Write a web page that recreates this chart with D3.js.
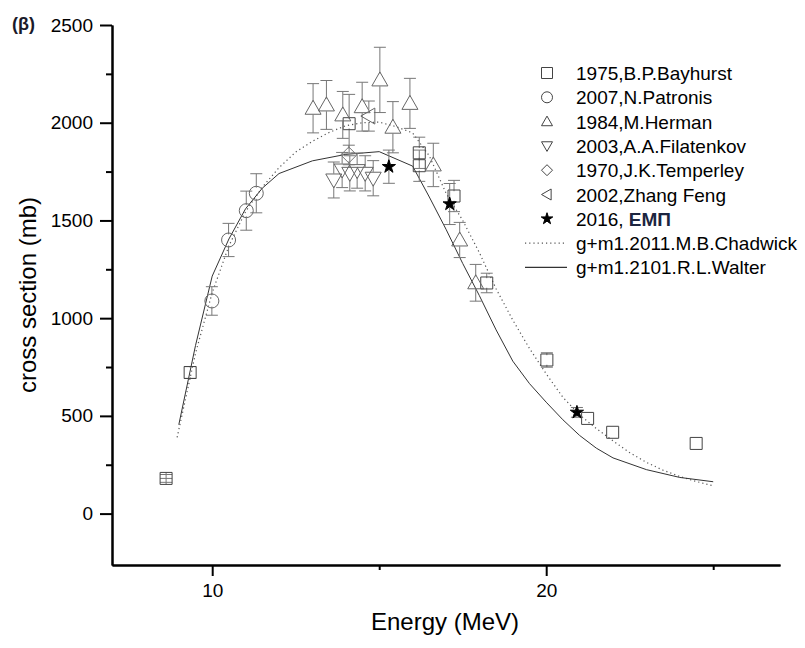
<!DOCTYPE html>
<html>
<head>
<meta charset="utf-8">
<script src="https://cdn.jsdelivr.net/npm/d3@7"></script>
<style>
  body { margin: 0; background: #fff; }
  svg { display: block; font-family: "Liberation Sans", Arial, sans-serif; }
</style>
</head>
<body>
<svg id="chart" width="805" height="648"></svg>
<script>
const width = 805;
const height = 648;

// measured points (Energy in MeV, cross section in mb, error in mb)
const bayhurstE   = [8.62, 9.34, 14.1, 16.2, 16.2, 17.24, 18.22, 20.02, 21.24, 21.99, 24.49];
const bayhurstXS  = [180, 722, 1995, 1846, 1780, 1625, 1180, 786, 487, 416, 359];
const bayhurstErr = [20, 30, 150, 80, 80, 80, 50, 37, 0, 0, 0];

const patronisE   = [9.99, 10.49, 11.02, 11.32];
const patronisXS  = [1088, 1400, 1550, 1639];
const patronisErr = [73, 85, 100, 100];

const hermanE   = [13.02, 13.42, 13.91, 14.49, 15.02, 15.41, 15.92, 16.62, 17.41, 17.89];
const hermanXS  = [2074, 2091, 2040, 2082, 2219, 1977, 2099, 1784, 1400, 1181];
const hermanErr = [126, 125, 120, 125, 167, 131, 128, 111, 90, 94];

const filatenkovE   = [13.64, 13.89, 14.12, 14.34, 14.58, 14.82];
const filatenkovXS  = [1707, 1758, 1741, 1755, 1741, 1716];
const filatenkovErr = [92, 90, 90, 90, 90, 90];

const temperleyE   = [14.09];
const temperleyXS  = [1835];
const temperleyErr = [50];

const zhangE   = [14.69];
const zhangXS  = [2034];
const zhangErr = [77];

const empE   = [15.29, 17.11, 20.92];
const empXS  = [1775, 1584, 518];
const empErr = [85, 105, 25];

// evaluated curves
const chadwickE  = [8.95, 9.5, 10, 10.5, 11, 11.5, 12, 12.5, 13, 13.5, 14, 14.5, 15, 15.5, 16, 16.5, 17, 17.5, 18, 18.5, 19, 19.5, 20, 20.5, 21, 21.5, 22, 22.5, 23, 23.5, 24, 24.5, 25];
const chadwickXS = [390, 820, 1130, 1370, 1545, 1670, 1770, 1850, 1905, 1950, 1985, 2000, 2003, 1980, 1948, 1830, 1640, 1500, 1335, 1150, 990, 845, 715, 595, 505, 435, 372, 312, 262, 222, 190, 164, 142];

const walterE  = [9.0, 9.5, 10, 10.5, 11, 11.5, 12, 13, 14, 15, 16, 16.5, 17, 17.5, 18, 18.5, 19, 19.5, 20, 20.5, 21, 21.5, 22, 23, 24, 25];
const walterXS = [455, 860, 1215, 1405, 1560, 1665, 1740, 1805, 1838, 1852, 1778, 1620, 1455, 1280, 1115, 940, 780, 665, 570, 480, 400, 335, 285, 225, 185, 163];

const yTicks = [0, 500, 1000, 1500, 2000, 2500];
const yMinor = [250, 750, 1250, 1750, 2250];
const xTicks = [10, 20];
const xMinor = [15, 25];

const svg = d3.select("#chart");

const x = d3.scaleLinear().domain([7, 27]).range([112, 780]);
const y = d3.scaleLinear().domain([-263, 2500]).range([565, 25]);

// marker outline for a given type, s = half size
function shape(type, s) {
  if (type == "square") return `M${-s},${-s}h${2*s}v${2*s}h${-2*s}Z`;
  if (type == "circle") return `M${s},0A${s},${s} 0 1,1 ${-s},0A${s},${s} 0 1,1 ${s},0Z`;
  if (type == "up") return `M0,${-s}L${s},${s*0.75}L${-s},${s*0.75}Z`;
  if (type == "down") return `M0,${s}L${s},${-s*0.75}L${-s},${-s*0.75}Z`;
  if (type == "left") return `M${-s},0L${s*0.75},${-s}L${s*0.75},${s}Z`;
  if (type == "diamond") return `M0,${-s}L${s},0L0,${s}L${-s},0Z`;
  if (type == "star") return d3.symbol(d3.symbolStar, s * s * 0.85)();
}

const series = [
  {name: "1975,B.P.Bayhurst", type: "square", E: bayhurstE, XS: bayhurstXS, err: bayhurstErr, s: 6, col: "#444"},
  {name: "2007,N.Patronis", type: "circle", E: patronisE, XS: patronisXS, err: patronisErr, s: 7, col: "#666"},
  {name: "1984,M.Herman", type: "up", E: hermanE, XS: hermanXS, err: hermanErr, s: 8, col: "#666"},
  {name: "2003,A.A.Filatenkov", type: "down", E: filatenkovE, XS: filatenkovXS, err: filatenkovErr, s: 8, col: "#666"},
  {name: "1970,J.K.Temperley", type: "diamond", E: temperleyE, XS: temperleyXS, err: temperleyErr, s: 8, col: "#777"},
  {name: "2002,Zhang Feng", type: "left", E: zhangE, XS: zhangXS, err: zhangErr, s: 8, col: "#666"},
  {name: "2016, ", bold: "ΕΜΠ", type: "star", E: empE, XS: empXS, err: empErr, s: 8, col: "#000", fill: "#000"}
];

// curves
const line = d3.line().x(d => x(d[0])).y(d => y(d[1]));
svg.append("path")
  .attr("d", line(d3.zip(chadwickE, chadwickXS)))
  .attr("fill", "none")
  .attr("stroke", "#555")
  .attr("stroke-width", 1.2)
  .attr("stroke-dasharray", "1.2,3");
svg.append("path")
  .attr("d", line(d3.zip(walterE, walterXS)))
  .attr("fill", "none")
  .attr("stroke", "#333")
  .attr("stroke-width", 1);

// error bars + markers
series.forEach(function(sr) {
  const g = svg.append("g");
  const pts = sr.E.map((e, i) => ({e: e, v: sr.XS[i], err: sr.err[i]}));
  pts.forEach(function(p) {
    if (!p.err) return;
    const cx = x(p.e), cy = y(p.v);
    const top = y(p.v + p.err), bot = y(p.v - p.err);
    const h = sr.type == "star" ? 0 : sr.s * 0.8;
    const eb = g.append("g").attr("stroke", "#777").attr("stroke-width", 1);
    if (cy - top > h) {
      eb.append("line").attr("x1", cx).attr("x2", cx).attr("y1", top).attr("y2", cy - h);
      eb.append("line").attr("x1", cx).attr("x2", cx).attr("y1", cy + h).attr("y2", bot);
    } else {
      // tiny error: bar stays inside the box, Origin style cross
      eb.append("line").attr("x1", cx).attr("x2", cx).attr("y1", cy - sr.s).attr("y2", cy + sr.s);
      eb.append("line").attr("x1", cx - sr.s).attr("x2", cx + sr.s).attr("y1", cy).attr("y2", cy);
    }
    eb.append("line").attr("x1", cx - 6).attr("x2", cx + 6).attr("y1", top).attr("y2", top);
    eb.append("line").attr("x1", cx - 6).attr("x2", cx + 6).attr("y1", bot).attr("y2", bot);
  });
  g.selectAll("path.mk")
    .data(pts)
    .join("path")
    .attr("class", "mk")
    .attr("d", shape(sr.type, sr.s))
    .attr("transform", d => `translate(${x(d.e)},${y(d.v)})`)
    .attr("fill", sr.fill || "none")
    .attr("stroke", sr.col)
    .attr("stroke-width", 1);
});

// axes
function styleAxis(g) {
  g.attr("font-family", "Liberation Sans, Arial, sans-serif").attr("font-size", 19);
  g.select(".domain").attr("stroke", "#000").attr("stroke-width", 2);
  g.selectAll(".tick line").attr("stroke", "#000").attr("stroke-width", 2);
  g.selectAll(".tick text").attr("fill", "#000");
}

svg.append("g")
  .attr("transform", "translate(112,0)")
  .call(d3.axisLeft(y).tickValues(yMinor).tickSize(6).tickSizeOuter(0).tickFormat(""))
  .call(styleAxis);
svg.append("g")
  .attr("transform", "translate(112,0)")
  .call(d3.axisLeft(y).tickValues(yTicks).tickSize(12).tickSizeOuter(0).tickPadding(7).tickFormat(d3.format("d")))
  .call(styleAxis);

svg.append("g")
  .attr("transform", "translate(0,565)")
  .call(d3.axisBottom(x).tickValues(xMinor).tickSize(5).tickSizeOuter(0).tickFormat(""))
  .call(styleAxis);
svg.append("g")
  .attr("transform", "translate(0,565)")
  .call(d3.axisBottom(x).tickValues(xTicks).tickSize(11).tickSizeOuter(0).tickPadding(8).tickFormat(d3.format("d")))
  .call(styleAxis);

// titles
svg.append("text")
  .attr("x", 445).attr("y", 630)
  .attr("text-anchor", "middle")
  .attr("font-size", 24)
  .text("Energy (MeV)");
svg.append("text")
  .attr("transform", "translate(36,295) rotate(-90)")
  .attr("text-anchor", "middle")
  .attr("font-size", 24)
  .text("cross section (mb)");
svg.append("text")
  .attr("x", 12).attr("y", 30)
  .attr("font-size", 18)
  .attr("font-weight", "bold")
  .attr("fill", "#1a1a2a")
  .text("(β)");

// legend
const lg = svg.append("g").attr("font-size", 19);
const rowY = i => 73 + i * 24.3;
series.forEach(function(sr, i) {
  lg.append("path")
    .attr("d", shape(sr.type, sr.type == "star" ? 7 : 5.5))
    .attr("transform", `translate(547,${rowY(i)})`)
    .attr("fill", sr.fill || "none")
    .attr("stroke", sr.type == "star" ? "#000" : "#444")
    .attr("stroke-width", 1);
  const t = lg.append("text").attr("x", 576).attr("y", rowY(i) + 7).text(sr.name);
  if (sr.bold) t.append("tspan").attr("font-weight", "bold").attr("fill", "#1c2540").text(sr.bold);
});
const curveLegend = [
  {name: "g+m1.2011.M.B.Chadwick", dash: "1.2,3", col: "#555"},
  {name: "g+m1.2101.R.L.Walter", dash: null, col: "#333"}
];
curveLegend.forEach(function(c, j) {
  const yy = rowY(series.length + j);
  lg.append("line")
    .attr("x1", 525).attr("x2", 567).attr("y1", yy).attr("y2", yy)
    .attr("stroke", c.col).attr("stroke-width", 1.2)
    .attr("stroke-dasharray", c.dash);
  lg.append("text").attr("x", 576).attr("y", yy + 7).text(c.name);
});
</script>
</body>
</html>
